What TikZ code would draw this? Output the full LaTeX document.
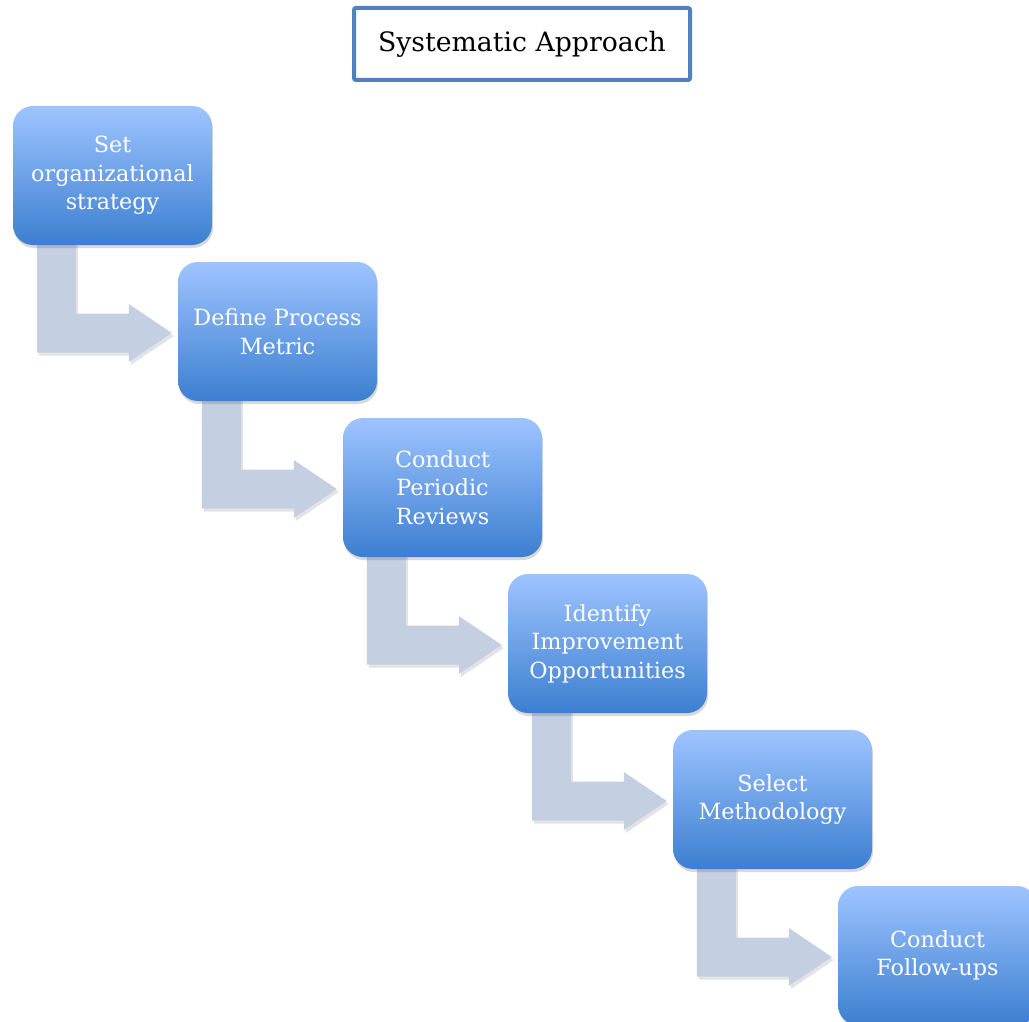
\documentclass[tikz,border=0pt]{standalone}
\usepackage{fontspec}
\setmainfont{DejaVu Serif}
\usetikzlibrary{calc,shadows}

\definecolor{titleblue}{RGB}{79,129,189}
\definecolor{steptop}{RGB}{158,196,255}
\definecolor{stepbottom}{RGB}{60,127,208}
\definecolor{bendfill}{RGB}{197,207,226}

\pgfdeclarelayer{background}
\pgfsetlayers{background,main}

\tikzset{
  stepbox/.style={
    rectangle, rounded corners=20, minimum width=199, minimum height=139,
    top color=steptop, bottom color=stepbottom, draw=none,
    text=white, align=center, inner sep=4,
    font=\fontsize{22.3}{28.5}\selectfont,
    drop shadow={shadow xshift=1pt, shadow yshift=-3pt, opacity=0.25, fill=black!60}
  },
  titlebox/.style={
    rectangle, draw=titleblue, line width=4, rounded corners=2,
    minimum width=336, minimum height=72, fill=white,
    font=\fontsize{26.7}{32}\selectfont
  },
  bendarrow/.style={
    fill=bendfill, draw=none,
    drop shadow={shadow xshift=2pt, shadow yshift=-3pt, opacity=0.18, fill=black!60}
  }
}

\begin{document}
\begin{tikzpicture}[x=1pt,y=-1pt]
  \useasboundingbox (0,0) rectangle (1029,1022);
  \clip (0,0) rectangle (1029,1022);

  % heading
  \node[titlebox] (title) at (522,44) {Systematic Approach};

  % the six steps, each one further down and to the right
  \node[stepbox] (s1) at (112.5,175.5)  {Set\\organizational\\strategy};
  \node[stepbox] (s2) at (277.5,331.5)  {Define Process\\Metric};
  \node[stepbox] (s3) at (442.5,487.5)  {Conduct\\Periodic\\Reviews};
  \node[stepbox] (s4) at (607.5,643.5)  {Identify\\Improvement\\Opportunities};
  \node[stepbox] (s5) at (772.5,799.5)  {Select\\Methodology};
  \node[stepbox] (s6) at (937.5,955.5)  {Conduct\\Follow-ups};

  % bent arrows from the bottom of one step into the next, behind the steps
  \begin{pgfonlayer}{background}
  \foreach \i/\j in {1/2,2/3,3/4,4/5,5/6}{
    \coordinate (t\i) at ($(s\j.west)+(-6,1.5)$);
    \fill[bendarrow]
      ($(s\i.south west)+(24,-4)$) -- ($(s\i.south west)+(63,-4)$)
      |- ($(t\i)+(-43,-19.5)$) -- ($(t\i)+(-43,-29)$) -- (t\i)
      -- ($(t\i)+(-43,29)$) -- ($(t\i)+(-43,19.5)$)
      -| ($(s\i.south west)+(24,-4)$) -- cycle;
  }
  \end{pgfonlayer}
\end{tikzpicture}
\end{document}
